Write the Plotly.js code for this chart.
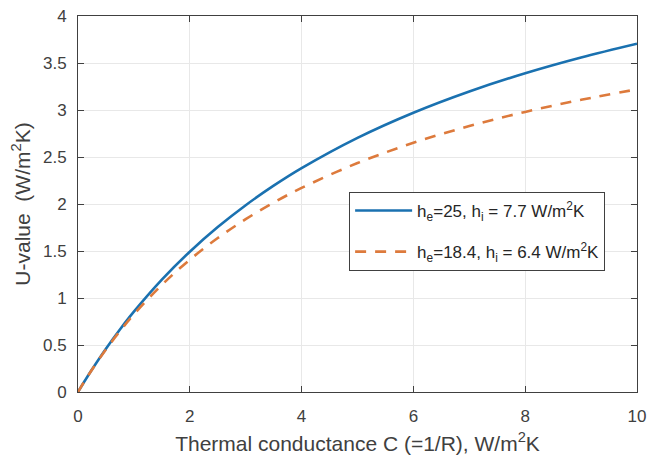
<!DOCTYPE html>
<html>
<head>
<meta charset="utf-8">
<script src="https://cdn.plot.ly/plotly-3.0.1.min.js"></script>
<style>html,body{margin:0;padding:0;background:#fff;}#chart{width:659px;height:456px;}</style>
</head>
<body>
<div id="chart"></div>
<script>
// Thermal conductance C (W/m2K)
const conductance = [0, 0.1, 0.25, 0.5, 0.75, 1, 1.5, 2, 2.5, 3, 3.5, 4, 5, 6, 7, 8, 9, 10];
// U-value, he=25, hi=7.7
const uValueA = [0, 0.0983, 0.2398, 0.4609, 0.6653, 0.8548, 1.1954, 1.4928, 1.7548, 1.9873, 2.1950, 2.3817, 2.7037, 2.9715, 3.1977, 3.3913, 3.5590, 3.7055];
// U-value, he=18.4, hi=6.4
const uValueB = [0, 0.0979, 0.2375, 0.4524, 0.6477, 0.8260, 1.1399, 1.4073, 1.6377, 1.8385, 2.0149, 2.1711, 2.4355, 2.6507, 2.8292, 2.9798, 3.1084, 3.2196];
const seriesNames = ['h<sub>e</sub>=25, h<sub>i</sub> = 7.7 W/m<sup>2</sup>K', 'h<sub>e</sub>=18.4, h<sub>i</sub> = 6.4 W/m<sup>2</sup>K'];
const xTicks = [0, 2, 4, 6, 8, 10];
const yTicks = [0, 0.5, 1, 1.5, 2, 2.5, 3, 3.5, 4];

const FONT = 'Liberation Sans, Arial, sans-serif';

const traces = [
  {x: conductance, y: uValueA, name: seriesNames[0], type: 'scatter', mode: 'lines', legendgroup: 'a',
   line: {color: '#1A71B0', width: 2.6, shape: 'spline'}},
  {x: conductance, y: uValueB, name: seriesNames[1], type: 'scatter', mode: 'lines', legendgroup: 'b',
   line: {color: '#DD7A3C', width: 2.6, dash: '11px,9px', shape: 'spline'}}
];

const axisCommon = {
  showline: true, linecolor: '#404040', linewidth: 1, mirror: 'ticks',
  ticks: 'inside', ticklen: 6, tickcolor: '#404040', tickwidth: 1,
  showgrid: true, gridcolor: '#e8e8e8', gridwidth: 1, zeroline: false,
  tickfont: {family: FONT, size: 17, color: '#404040'}
};

const layout = {
  width: 659, height: 456,
  margin: {l: 78, r: 22, t: 16, b: 64},
  paper_bgcolor: '#fff', plot_bgcolor: '#fff',
  showlegend: true,
  xaxis: Object.assign({}, axisCommon, {
    range: [0, 10], tickvals: xTicks, ticktext: xTicks.map(String), ticklabelstandoff: 9,
    title: {text: 'Thermal conductance C (=1/R), W/m<sup>2</sup>K', standoff: 10,
            font: {family: FONT, size: 21, color: '#404040'}}
  }),
  yaxis: Object.assign({}, axisCommon, {
    range: [0, 4], tickvals: yTicks, ticktext: yTicks.map(String), ticklabelstandoff: 7,
    title: {text: 'U-value&nbsp;&nbsp;(W/m<sup>2</sup>K)', standoff: 6,
            font: {family: FONT, size: 21, color: '#404040'}}
  }),
  legend: {
    x: 0.485, y: 0.532, xanchor: 'left', yanchor: 'top',
    bgcolor: '#fff', bordercolor: '#404040', borderwidth: 1,
    font: {family: FONT, size: 17, color: '#262626'},
    itemwidth: 57, tracegroupgap: 16
  }
};

Plotly.newPlot('chart', traces, layout, {displayModeBar: false, staticPlot: true});
</script>
</body>
</html>
